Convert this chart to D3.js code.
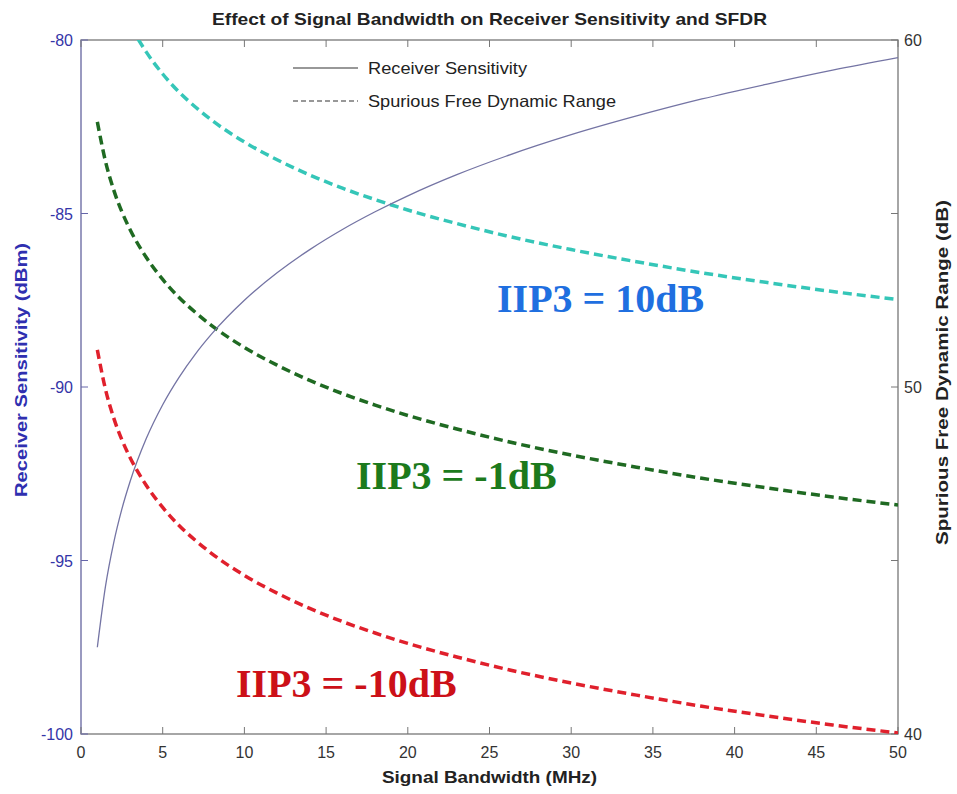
<!DOCTYPE html>
<html><head><meta charset="utf-8">
<script src="https://cdn.jsdelivr.net/npm/d3@7"></script>
<style>body{margin:0;background:#fff}svg{display:block}</style>
</head><body>
<script>
const bw = [1, 1.5, 2, 2.5, 3, 4, 5, 6, 7, 8, 10, 12, 14, 16, 18, 20, 23, 26, 30, 34, 38, 42, 46, 50];
const sensitivity = [-97.50, -95.74, -94.49, -93.52, -92.73, -91.48, -90.51, -89.72, -89.05, -88.47, -87.50, -86.71, -86.04, -85.46, -84.95, -84.49, -83.88, -83.35, -82.73, -82.19, -81.70, -81.27, -80.87, -80.51];
const sfdrGreen = [57.64, 56.50, 55.68, 55.05, 54.54, 53.73, 53.10, 52.58, 52.15, 51.77, 51.14, 50.63, 50.19, 49.81, 49.48, 49.18, 48.79, 48.44, 48.04, 47.69, 47.37, 47.09, 46.83, 46.60];
const sfdrRed = [51.07, 49.93, 49.11, 48.48, 47.97, 47.16, 46.53, 46.01, 45.58, 45.20, 44.57, 44.06, 43.62, 43.24, 42.91, 42.61, 42.22, 41.87, 41.47, 41.12, 40.80, 40.52, 40.26, 40.03];
const bwCyan = [3.5, 4, 5, 6, 7, 8, 10, 12, 14, 16, 18, 20, 23, 26, 30, 34, 38, 42, 46, 50];
const sfdrCyan = [60.02, 59.65, 59.02, 58.50, 58.07, 57.69, 57.06, 56.55, 56.11, 55.73, 55.40, 55.10, 54.71, 54.36, 53.96, 53.61, 53.29, 53.01, 52.75, 52.52];
const xTicks = [0, 5, 10, 15, 20, 25, 30, 35, 40, 45, 50];
const yLeftTicks = [-80, -85, -90, -95, -100];
const yRightTicks = [40, 45, 50, 55, 60];
const yRightLabels = [40, 50, 60];

const W = 957, H = 794;
const L = 81, R = 898, T = 40, B = 734;
const svg = d3.select("body").append("svg").attr("width", W).attr("height", H)
  .style("font-family", "'Liberation Sans', Arial, sans-serif");

const x = d3.scaleLinear().domain([0, 50]).range([L, R]);
const yL = d3.scaleLinear().domain([-100, -80]).range([B, T]);
const yR = d3.scaleLinear().domain([40, 60]).range([B, T]);

svg.append("defs").append("clipPath").attr("id", "clip")
  .append("rect").attr("x", L).attr("y", T).attr("width", R - L).attr("height", B - T);

// box
svg.append("rect").attr("x", L).attr("y", T).attr("width", R - L).attr("height", B - T)
  .attr("fill", "none").attr("stroke", "#777").attr("stroke-width", 1.3);
svg.append("line").attr("x1", L).attr("x2", L).attr("y1", T).attr("y2", B)
  .attr("stroke", "#9a9ac0").attr("stroke-width", 2);

// x ticks bottom & top (inward)
const xa = svg.append("g");
xTicks.forEach(t => {
  xa.append("line").attr("x1", x(t)).attr("x2", x(t)).attr("y1", B).attr("y2", B - 7).attr("stroke", "#777");
  xa.append("line").attr("x1", x(t)).attr("x2", x(t)).attr("y1", T).attr("y2", T + 7).attr("stroke", "#777");
  xa.append("text").attr("x", x(t)).attr("y", 758).attr("text-anchor", "middle")
    .attr("font-size", 16).attr("fill", "#333").text(t);
});
// left ticks
yLeftTicks.forEach(t => {
  svg.append("line").attr("x1", L).attr("x2", L + 7).attr("y1", yL(t)).attr("y2", yL(t)).attr("stroke", "#6666aa");
  svg.append("text").attr("x", 73).attr("y", yL(t) + 6).attr("text-anchor", "end")
    .attr("font-size", 16).attr("fill", "#3535a8").text(t);
});
// right ticks
yRightTicks.forEach(t => {
  svg.append("line").attr("x1", R).attr("x2", R - 7).attr("y1", yR(t)).attr("y2", yR(t)).attr("stroke", "#777");
});
yRightLabels.forEach(t => {
  svg.append("text").attr("x", 904).attr("y", yR(t) + 6).attr("text-anchor", "start")
    .attr("font-size", 16).attr("fill", "#333").text(t);
});

// titles
svg.append("text").attr("x", 212).attr("y", 25)
  .attr("font-size", 17).attr("font-weight", "bold").attr("fill", "#222")
  .attr("textLength", 555).attr("lengthAdjust", "spacingAndGlyphs")
  .text("Effect of Signal Bandwidth on Receiver Sensitivity and SFDR");
svg.append("text").attr("x", 382).attr("y", 783)
  .attr("font-size", 17).attr("font-weight", "bold").attr("fill", "#222")
  .attr("textLength", 215).attr("lengthAdjust", "spacingAndGlyphs")
  .text("Signal Bandwidth (MHz)");
svg.append("text").attr("transform", "translate(27,497) rotate(-90)")
  .attr("font-size", 16).attr("font-weight", "bold").attr("fill", "#2f2fb0")
  .attr("textLength", 254).attr("lengthAdjust", "spacingAndGlyphs")
  .text("Receiver Sensitivity (dBm)");
svg.append("text").attr("transform", "translate(948,545) rotate(-90)")
  .attr("font-size", 16).attr("font-weight", "bold").attr("fill", "#222")
  .attr("textLength", 345).attr("lengthAdjust", "spacingAndGlyphs")
  .text("Spurious Free Dynamic Range (dB)");

const plot = svg.append("g").attr("clip-path", "url(#clip)");
const lineL = d3.line().x(d => x(d[0])).y(d => yL(d[1])).curve(d3.curveMonotoneX);
const lineR = d3.line().x(d => x(d[0])).y(d => yR(d[1])).curve(d3.curveMonotoneX);

plot.append("path").datum(d3.zip(bwCyan, sfdrCyan)).attr("d", lineR)
  .attr("fill", "none").attr("stroke", "#35c6b8").attr("stroke-width", 3.5).attr("stroke-dasharray", "9,5");
plot.append("path").datum(d3.zip(bw, sfdrGreen)).attr("d", lineR)
  .attr("fill", "none").attr("stroke", "#1f6a22").attr("stroke-width", 3.5).attr("stroke-dasharray", "9,5");
plot.append("path").datum(d3.zip(bw, sfdrRed)).attr("d", lineR)
  .attr("fill", "none").attr("stroke", "#e0202c").attr("stroke-width", 3.5).attr("stroke-dasharray", "9,5");
plot.append("path").datum(d3.zip(bw, sensitivity)).attr("d", lineL)
  .attr("fill", "none").attr("stroke", "#7474a4").attr("stroke-width", 1.3);

// legend
svg.append("line").attr("x1", 293).attr("x2", 358).attr("y1", 68).attr("y2", 68).attr("stroke", "#333").attr("stroke-width", 1.2);
svg.append("text").attr("x", 368).attr("y", 74).attr("font-size", 16.5).attr("fill", "#222")
  .attr("textLength", 159).attr("lengthAdjust", "spacingAndGlyphs").text("Receiver Sensitivity");
svg.append("line").attr("x1", 293).attr("x2", 358).attr("y1", 101).attr("y2", 101).attr("stroke", "#333").attr("stroke-width", 1.2).attr("stroke-dasharray", "5,3");
svg.append("text").attr("x", 368).attr("y", 107).attr("font-size", 16.5).attr("fill", "#222")
  .attr("textLength", 248).attr("lengthAdjust", "spacingAndGlyphs").text("Spurious Free Dynamic Range");

// annotations
const ann = [
  {t: "IIP3 = 10dB", x: 497, y: 312, c: "#1f6fe0"},
  {t: "IIP3 = -1dB", x: 356, y: 489, c: "#1c7a1c"},
  {t: "IIP3 = -10dB", x: 236, y: 697, c: "#cc1018"}
];
ann.forEach(a => svg.append("text").attr("x", a.x).attr("y", a.y)
  .attr("font-family", "'Liberation Serif', 'Times New Roman', serif")
  .attr("font-weight", "bold").attr("font-size", 40).attr("fill", a.c).text(a.t));
</script>
</body></html>
